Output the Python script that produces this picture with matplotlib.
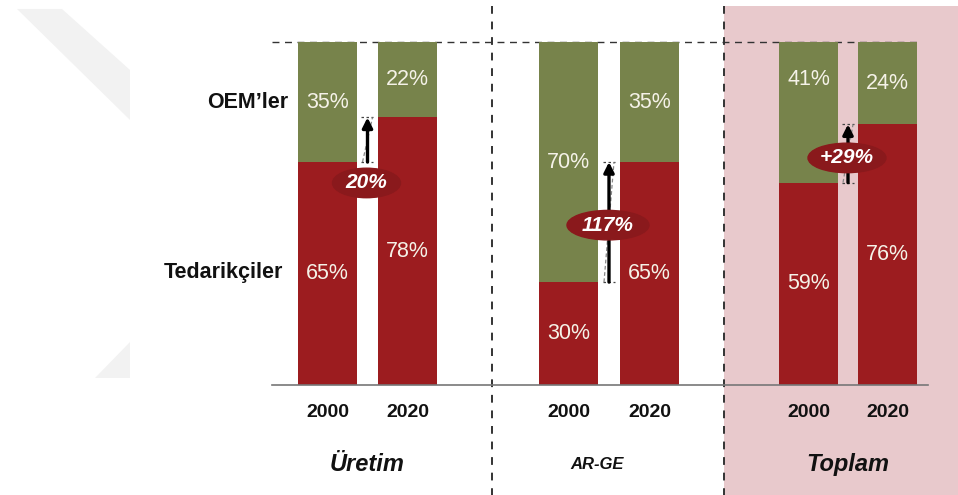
import matplotlib.pyplot as plt
from matplotlib.patches import Ellipse, Polygon, Rectangle

plt.rcParams['font.family'] = ['Liberation Sans', 'DejaVu Sans']

# Data
groups = ['Üretim', 'AR-GE', 'Toplam']
years = ['2000', '2020']
supplier = [65, 78, 30, 65, 59, 76]   # Tedarikçiler share (%)
oem = [35, 22, 70, 35, 41, 24]        # OEM'ler share (%)
change = ['20%', '117%', '+29%']

GREEN = '#77834B'
RED = '#9C1C1F'
DARKRED = '#8A191C'
PINK = '#E8C9CC'
TXT = '#F5F2E8'

# figure is laid out in pixel-like x units, y in percent
fig = plt.figure(figsize=(9.58, 4.95), dpi=100)
ax = fig.add_axes([0, 0, 1, 1])
ax.set_xlim(0, 958)
ax.set_ylim(-32.07, 112.24)
ax.axis('off')


def py(p):
    # pixel row -> data y
    return (385 - p) / 3.43


# faint watermark in the top left corner
ax.add_patch(Polygon([(17, py(9)), (62, py(9)), (130, py(70)), (130, py(120))],
                     closed=True, color='#F2F2F2', lw=0, zorder=0))
ax.add_patch(Polygon([(95, py(378)), (130, py(342)), (130, py(378))],
                     closed=True, color='#F2F2F2', lw=0, zorder=0))

# pink "Toplam" panel
ax.add_patch(Rectangle((724, -40), 240, py(6) + 40, color=PINK, lw=0, zorder=0))

xpos = [327.5, 407.5, 568.5, 649.5, 808.5, 887.5]
width = 59

ax.bar(xpos, supplier, width=width, color=RED, zorder=2)
ax.bar(xpos, oem, bottom=supplier, width=width, color=GREEN, zorder=2)

# reference lines
ax.plot([272, 917], [100, 100], ls=(0, (5, 4)), color='#333333', lw=1, zorder=1)
ax.plot([272, 928], [0, 0], color='#777777', lw=1.2, zorder=3)
for xv in [492, 724]:
    ax.plot([xv, xv], [-33, 113], ls=(0, (4, 4)), color='#333333', lw=1.4, zorder=1)

# segment labels
green_shift = [0, 0, 0, 0, 9.5, 0]
for i, x in enumerate(xpos):
    ax.text(x, supplier[i] / 2, f'{supplier[i]}%', ha='center', va='center',
            color=TXT, fontsize=15.5, zorder=5)
    ax.text(x, supplier[i] + oem[i] / 2 + green_shift[i], f'{oem[i]}%',
            ha='center', va='center', color=TXT, fontsize=15.5, zorder=5)

# change arrows + ellipse badges
ell_y = [58.9, 46.6, 66.2]
ell_w = [68, 82, 78]
for g in range(3):
    lo, hi = supplier[2 * g], supplier[2 * g + 1]
    xa = (xpos[2 * g] + xpos[2 * g + 1]) / 2
    ax.plot([xa - 6, xa + 6], [lo, lo], ls=(0, (2, 2)), color='#444444', lw=0.9, zorder=3)
    ax.plot([xa - 6, xa + 6], [hi, hi], ls=(0, (2, 2)), color='#444444', lw=0.9, zorder=3)
    ax.plot([xa - 5, xa + 5], [lo, hi], ls=(0, (3, 2)), color='#888888', lw=0.9, zorder=3)
    ax.annotate('', xy=(xa, hi), xytext=(xa, lo),
                arrowprops=dict(arrowstyle='-|>', color='black', lw=2.4,
                                mutation_scale=15, shrinkA=0, shrinkB=0), zorder=4)
    ax.add_patch(Ellipse((xa - 1, ell_y[g]), ell_w[g], 8.6, color=DARKRED, zorder=6))
    ax.text(xa - 1, ell_y[g], change[g], ha='center', va='center', color='white',
            fontsize=15, fontweight='bold', fontstyle='italic', zorder=7)

# year labels and group titles
for i, x in enumerate(xpos):
    ax.text(x, py(413), years[i % 2], ha='center', va='center',
            fontsize=14, fontweight='bold', color='#111111')
group_x = [367.5, 597, 848]
group_fs = [17, 12, 17]
for g in range(3):
    ax.text(group_x[g], py(465), groups[g], ha='center', va='center',
            fontsize=group_fs[g], fontweight='bold', fontstyle='italic', color='#111111')

# series names on the left
ax.text(288, py(103), 'OEM’ler', ha='right', va='center',
        fontsize=15.5, fontweight='bold', color='#111111')
ax.text(283, py(273), 'Tedarikçiler', ha='right', va='center',
        fontsize=15.5, fontweight='bold', color='#111111')

fig.savefig('out.png', dpi=100)
